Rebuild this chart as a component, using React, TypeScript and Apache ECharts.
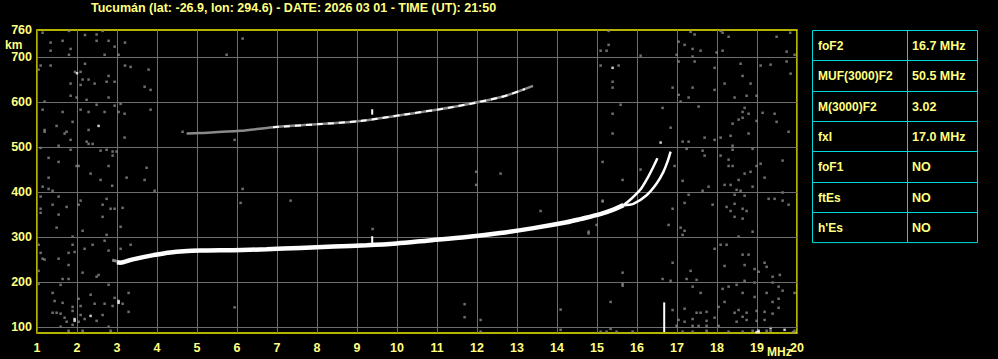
import React, { useEffect, useRef } from 'react';
import * as echarts from 'echarts';

const TITLE = 'Tucumán (lat: -26.9, lon: 294.6) - DATE: 2026 03 01 - TIME (UT): 21:50';
const HEIGHT_LABELS = [100, 200, 300, 400, 500, 600, 700, 760];
const HEIGHT_GRID = [100, 200, 300, 400, 500, 600, 700];

const TABLE_LABELS = ['foF2', 'MUF(3000)F2', 'M(3000)F2', 'fxI', 'foF1', 'ftEs', "h'Es"];
const TABLE_VALUES = ['16.7 MHz', '50.5 MHz', '3.02', '17.0 MHz', 'NO', 'NO', 'NO'];

// Lower F trace (freq MHz, virtual height km)
const F_TRACE = [[3.0, 244], [3.08, 243], [3.37, 250], [3.91, 260], [4.33, 266], [5.08, 270], [5.91, 271], [6.74, 273], [7.58, 276], [8.41, 279], [9.24, 282], [9.99, 286], [10.74, 292], [11.74, 300], [12.58, 309], [13.41, 320], [14.24, 333], [14.58, 340], [15.08, 351], [15.41, 361], [15.66, 371]];
const F_TRACE_EDGE = [[2.88, 249], [3.0, 246]];
const O_BRANCH = [[15.66, 371], [15.83, 383], [16.08, 405], [16.28, 434], [16.43, 460], [16.51, 475]];
const X_BRANCH = [[15.66, 371], [15.91, 374], [16.24, 393], [16.49, 419], [16.66, 445], [16.76, 467], [16.84, 490]];
// Second-hop trace
const F2_TRACE = [[4.74, 530], [5.08, 531], [6.08, 536], [6.9, 544], [8.08, 551], [9.08, 558], [10.25, 573], [11.4, 589], [12.6, 611], [13.4, 636]];
const F2_BRIGHT = [[6.9, 544], [8.08, 551], [9.08, 558], [10.25, 573], [11.4, 589], [12.6, 611], [13.2, 629]];
// Short bright vertical marks
const MARK_A = [[16.68, 89], [16.68, 155]];
const MARK_B = [[9.38, 281], [9.38, 302]];
const MARK_C = [[9.38, 572], [9.38, 584]];

const NOISE = [
  [1.14, 754], [1.8, 758], [2.2, 749], [2.49, 750], [2.64, 758], [1.34, 732], [1.64, 736], [1.84, 718], [1.34, 714], [1.8, 705], [2.49, 736], [2.79, 736], [2.94, 723], [3.2, 732], [2.69, 705], [3.04, 705], [1.09, 681], [1.34, 681], [1.04, 672], [1.95, 667], [2.09, 667], [2.2, 685], [2.14, 650], [2.29, 650], [2.09, 638], [1.84, 641], [2.44, 641], [2.79, 658], [2.74, 645], [2.94, 645], [3.2, 681], [3.34, 678], [3.79, 672], [3.69, 634], [3.84, 627], [1.84, 614], [1.99, 610], [2.24, 605], [2.79, 610], [1.19, 601], [2.49, 594], [2.94, 592], [3.09, 596], [1.14, 583], [1.64, 578], [2.09, 583], [2.29, 578], [2.69, 578], [3.04, 578], [3.19, 574], [3.84, 583], [1.89, 556], [1.49, 547], [1.19, 538], [1.19, 534], [2.29, 538], [1.74, 534], [1.69, 530], [1.84, 516], [3.19, 521], [4.64, 534], [2.24, 512], [2.29, 507], [2.39, 507], [1.54, 503], [1.09, 498], [1.84, 494], [2.59, 492], [2.74, 494], [2.89, 490], [2.99, 490], [2.89, 481], [1.29, 476], [1.54, 467], [1.99, 458], [2.04, 458], [2.79, 458], [3.74, 454], [2.34, 441], [1.29, 432], [3.24, 432],
  [2.59, 427], [3.69, 427], [1.14, 412], [1.29, 407], [1.39, 403], [2.88, 414], [3.94, 403], [1.09, 390], [1.54, 390], [2.09, 381], [2.04, 372], [1.39, 372], [1.74, 367], [1.09, 363], [1.09, 354], [2.64, 372], [2.74, 385], [2.84, 363], [2.94, 363], [3.14, 365], [1.54, 350], [2.64, 345], [1.49, 321], [2.14, 314], [3.09, 323], [2.74, 305], [1.89, 301], [1.04, 283], [1.89, 283], [2.19, 274], [2.39, 283], [2.69, 292], [3.34, 283], [3.09, 274], [2.79, 270], [1.09, 265], [1.79, 265], [1.94, 267], [1.14, 252], [1.19, 250], [1.54, 252], [1.79, 238], [1.04, 225], [2.14, 221], [2.54, 216], [2.49, 212], [1.64, 207], [1.79, 207], [1.04, 196], [1.59, 194], [2.79, 194], [1.39, 176], [2.34, 172], [3.29, 176], [1.44, 158], [2.04, 163], [1.64, 154], [1.89, 145], [2.09, 147], [2.44, 152], [2.69, 152], [2.94, 165], [3.14, 152], [2.89, 147], [3.29, 134], [1.39, 132], [1.49, 132], [1.59, 130], [1.89, 136], [2.09, 127], [1.69, 121], [1.74, 112], [2.19, 118], [2.04, 112], [2.49, 114], [2.64, 127], [2.79, 101], [1.59, 101], [1.79, 92], [2.14, 92], [2.84, 92], [1.89, 105],
  [15.29, 758], [17.34, 756], [17.44, 750], [18.09, 758], [18.14, 754], [18.29, 745], [19.49, 745], [19.83, 754], [15.29, 727], [15.09, 714], [15.24, 714], [17.04, 734], [17.19, 727], [17.39, 718], [17.59, 714], [17.99, 710], [18.14, 714], [19.74, 712], [19.94, 705], [16.09, 703], [16.99, 705], [17.39, 701], [15.09, 681], [15.54, 681], [17.04, 690], [17.44, 690], [17.94, 676], [18.59, 685], [19.09, 681], [19.34, 683], [19.74, 690], [19.84, 663], [18.64, 658], [15.39, 645], [18.19, 641], [18.84, 641], [15.39, 632], [16.89, 632], [17.39, 632], [17.94, 627], [17.04, 616], [17.29, 610], [17.09, 601], [18.44, 610], [18.74, 614], [18.99, 614], [15.59, 594], [16.64, 587], [17.54, 590], [18.69, 587], [15.39, 574], [18.64, 578], [18.79, 574], [19.14, 576], [19.44, 574], [18.64, 565], [18.54, 561], [18.99, 558], [19.49, 556], [18.39, 552], [16.84, 543], [19.79, 534], [15.39, 530], [17.69, 521], [17.94, 516], [18.09, 521], [18.34, 525], [18.79, 530], [17.14, 512], [17.29, 512], [18.39, 503], [18.89, 496], [17.24, 496], [17.64, 492], [17.69, 481], [18.09, 481], [18.39, 494], [18.29, 472], [18.29, 458], [18.39, 458], [18.99, 458], [19.09, 463], [19.64, 470], [15.14, 467], [16.09, 450], [16.94, 458], [18.69, 441], [18.84, 445], [19.19, 432],
  [15.64, 427], [17.14, 425], [18.54, 427], [18.19, 416], [18.34, 416], [18.89, 412], [17.79, 412], [17.64, 403], [18.49, 405], [18.59, 403], [18.69, 392], [18.44, 394], [17.29, 394], [19.64, 399], [19.29, 385], [19.44, 385], [19.64, 381], [19.79, 372], [15.14, 381], [17.19, 376], [17.89, 372], [18.44, 374], [18.24, 367], [18.64, 363], [18.74, 358], [18.34, 358], [16.89, 363], [16.79, 327], [17.09, 321], [17.19, 314], [17.14, 305], [18.44, 345], [18.64, 341], [18.89, 312], [18.54, 301], [18.09, 283], [18.24, 283], [17.94, 274], [18.64, 261], [18.79, 261], [19.19, 243], [16.89, 243], [18.19, 236], [18.69, 238], [19.24, 234], [18.94, 229], [17.34, 225], [19.04, 223], [19.39, 212], [19.57, 216], [15.64, 221], [16.64, 207], [16.84, 203], [17.24, 207], [17.49, 205], [15.64, 196], [15.64, 192], [18.29, 190], [18.69, 203], [18.94, 199], [19.39, 199], [19.54, 190], [19.64, 181], [19.94, 176], [17.39, 190], [17.59, 176], [18.14, 185], [18.49, 194], [18.64, 176], [19.24, 176], [18.94, 167], [19.54, 163], [18.19, 156], [19.39, 156], [19.54, 143], [15.34, 156], [18.04, 145], [17.19, 141], [16.89, 138], [17.74, 134], [17.59, 132], [17.49, 132], [18.44, 132], [18.54, 138], [18.74, 132], [19.19, 134], [18.99, 136], [19.39, 130], [18.64, 123], [17.94, 121], [17.04, 116], [17.39, 118], [17.74, 114], [17.19, 112], [18.49, 112], [18.74, 116], [19.19, 116], [18.99, 114], [16.99, 103], [17.39, 103], [17.54, 103], [17.74, 103], [18.04, 103], [15.34, 96], [17.14, 90], [17.39, 90], [15.09, 90], [15.24, 90], [15.49, 90], [15.89, 90], [19.94, 92], [19.9, 89], [18.29, 90], [18.64, 90], [18.89, 92], [19.24, 92], [19.34, 92], [17.74, 92],
  [5.94, 516], [6.14, 407], [6.09, 376], [7.34, 381], [9.39, 318], [11.98, 445], [11.98, 416], [12.59, 441], [13.59, 358], [15.14, 379], [14.79, 312], [14.79, 308], [14.99, 327], [6.14, 741], [5.74, 705], [5.94, 144], [11.69, 151], [11.69, 122], [12.09, 116], [12.09, 90], [14.09, 139], [14.09, 94]
];
const BRIGHT_DOTS = [[2.0, 664], [2.54, 547], [3.04, 154], [3.04, 158], [2.34, 125], [1.94, 114], [1.94, 118], [15.39, 676], [16.59, 510], [19.34, 98], [19.04, 92], [19.04, 89], [19.69, 94], [18.99, 89]];

const FONT = '"Liberation Sans", Arial, sans-serif';
const YELLOW = '#ffff80';
const CYAN = '#00dcdc';
const GRIDC = '#6e6e6e';

function lineSeries(data: number[][], color: string, width: number, extra: any = {}) {
  return {
    type: 'line', data, showSymbol: false, symbol: 'none', silent: true,
    lineStyle: { color, width, ...(extra.lineStyle || {}) },
    smooth: extra.smooth ?? 0.3, z: extra.z ?? 5,
  };
}

export default function App() {
  const ref = useRef<HTMLDivElement>(null);
  useEffect(() => {
    if (!ref.current) return;
    const chart = echarts.init(ref.current, null, { renderer: 'svg' });
    const tblX = 812, tblY = 30, tblW = 165, rowH = 30.3, colX = 907;
    const graphics: any[] = [
      { type: 'rect', shape: { x: tblX + 0.5, y: tblY + 0.5, width: tblW, height: rowH * TABLE_LABELS.length }, style: { fill: 'none', stroke: CYAN, lineWidth: 1 } },
      { type: 'line', shape: { x1: colX + 0.5, y1: tblY, x2: colX + 0.5, y2: tblY + rowH * TABLE_LABELS.length }, style: { stroke: CYAN, lineWidth: 1 } },
      { type: 'text', x: 5, y: 45, style: { text: 'km', fill: YELLOW, font: `bold 12px ${FONT}`, textVerticalAlign: 'middle' } },
      { type: 'text', x: 767, y: 352, style: { text: 'MHz', fill: YELLOW, font: `bold 12px ${FONT}`, textVerticalAlign: 'middle' } },
    ];
    TABLE_LABELS.forEach((lab, i) => {
      const y0 = tblY + rowH * i;
      if (i > 0) graphics.push({ type: 'line', shape: { x1: tblX, y1: Math.round(y0) + 0.5, x2: tblX + tblW, y2: Math.round(y0) + 0.5 }, style: { stroke: CYAN, lineWidth: 1 } });
      graphics.push({ type: 'text', x: 818, y: y0 + rowH / 2 + 1, style: { text: lab, fill: YELLOW, font: `bold 12px ${FONT}`, textVerticalAlign: 'middle' } });
      graphics.push({ type: 'text', x: 912, y: y0 + rowH / 2 + 1, style: { text: TABLE_VALUES[i], fill: YELLOW, font: `bold 12.5px ${FONT}`, textVerticalAlign: 'middle' } });
    });

    chart.setOption({
      backgroundColor: '#000',
      animation: false,
      title: { text: TITLE, left: 91, top: 1, padding: 0, textStyle: { color: YELLOW, fontSize: 12.5, fontWeight: 'bold', fontFamily: FONT } },
      grid: { left: 37, right: 201, top: 30, bottom: 26, show: true, borderColor: '#f0f000', borderWidth: 1.5, backgroundColor: 'transparent' },
      xAxis: {
        type: 'value', min: 1, max: 20, interval: 1,
        axisLine: { show: false }, axisTick: { show: false },
        splitLine: { show: true, lineStyle: { color: GRIDC, width: 1 } },
        axisLabel: { color: YELLOW, fontSize: 12.5, fontWeight: 'bold', fontFamily: FONT, margin: 8 },
      },
      yAxis: {
        type: 'value', min: 87, max: 760,
        axisLine: { show: false }, axisTick: { show: false },
        splitLine: { show: false },
        axisLabel: { customValues: HEIGHT_LABELS, color: YELLOW, fontSize: 12.5, fontWeight: 'bold', fontFamily: FONT, margin: 5 },
      },
      graphic: graphics,
      series: [
        {
          type: 'scatter', data: NOISE, symbol: 'rect', symbolSize: 2.5, itemStyle: { color: '#8a8a8a' }, silent: true, z: 3,
          markLine: {
            silent: true, symbol: 'none', label: { show: false },
            lineStyle: { color: GRIDC, width: 1, type: 'solid' },
            data: HEIGHT_GRID.map((v) => ({ yAxis: v })),
          },
        },
        { type: 'scatter', data: BRIGHT_DOTS, symbol: 'rect', symbolSize: 2.5, itemStyle: { color: '#ffffff' }, silent: true, z: 4 },
        lineSeries(F2_TRACE, '#8a8a8a', 2.5),
        lineSeries(F2_BRIGHT, '#ffffff', 2, { lineStyle: { type: [6, 5] }, z: 6 }),
        lineSeries(F_TRACE_EDGE, '#8a8a8a', 3, { smooth: false }),
        lineSeries(F_TRACE, '#ffffff', 4.5),
        lineSeries(O_BRANCH, '#ffffff', 2.5),
        lineSeries(X_BRANCH, '#ffffff', 2.5),
        lineSeries(MARK_A, '#ffffff', 2, { smooth: false }),
        lineSeries(MARK_B, '#ffffff', 2, { smooth: false }),
        lineSeries(MARK_C, '#ffffff', 2, { smooth: false }),
      ],
    });
    return () => chart.dispose();
  }, []);
  return <div ref={ref} style={{ position: 'fixed', left: 0, top: 0, width: 998, height: 359, background: '#000' }} />;
}
